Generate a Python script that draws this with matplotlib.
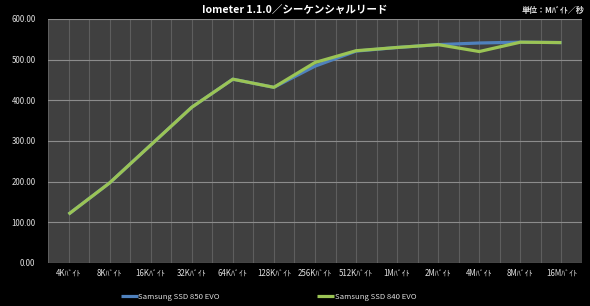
import matplotlib
matplotlib.use("Agg")
import matplotlib.pyplot as plt
import numpy as np

plt.rcParams['font.family'] = ['Noto Sans CJK JP', 'DejaVu Sans']

categories = ["4K", "8K", "16K", "32K", "64K", "128K", "256K", "512K",
              "1M", "2M", "4M", "8M", "16M"]
unit_suffix = "ﾊﾞｲﾄ"
evo850 = [120, 197, 290, 383, 452, 432, 484, 521, 530, 537, 541, 543, 542]
evo840 = [120, 197, 290, 383, 452, 432, 493, 522, 530, 537, 520, 543, 542]
series_names = ["Samsung SSD 850 EVO", "Samsung SSD 840 EVO"]
yticks = [0, 100, 200, 300, 400, 500, 600]

W, H = 590, 306
fig = plt.figure(figsize=(W / 100, H / 100), dpi=100, facecolor='black')
ax = fig.add_axes([48 / W, 1 - 263 / H, (582 - 48) / W, (263 - 19) / H])
ax.set_facecolor('#404040')

x = np.arange(len(categories))
ax.set_xlim(-0.5, len(categories) - 0.5)
ax.set_ylim(0, 600)

# gridlines
for xv in np.arange(-0.5, len(categories), 0.5):
    ax.axvline(xv, color='#5e5e5e', lw=0.8, zorder=1)
for yv in yticks:
    ax.axhline(yv, color='#8c8c8c', lw=0.8, zorder=1)

ax.plot(x, evo850, color='#4f81bd', lw=2.3, solid_capstyle='butt',
        solid_joinstyle='round', zorder=3, label=series_names[0])
ax.plot(x, evo840, color='#9bc455', lw=2.3, solid_capstyle='butt',
        solid_joinstyle='round', zorder=4, label=series_names[1])

ax.set_yticks(yticks)
ax.set_yticklabels([f"{v:.2f}" for v in yticks], color='#e0e0e0', fontsize=5.7)
ax.set_xticks(x)
ax.set_xticklabels([c + unit_suffix for c in categories], color='#e0e0e0', fontsize=5.7)
ax.tick_params(length=0, pad=4)
ax.tick_params(axis='y', pad=9)
for s in ax.spines.values():
    s.set_visible(False)

fig.text(0.5, 1 - 11 / H, "Iometer 1.1.0／シーケンシャルリード", ha='center', va='center',
         color='white', fontsize=7.6, fontweight='bold')
fig.text(585 / W, 1 - 11 / H, "単位：Mﾊﾞｲﾄ／秒", ha='right', va='center',
         color='#e0e0e0', fontsize=5.8, fontweight='bold')

leg = fig.legend(loc='center left', bbox_to_anchor=(114 / W, 1 - 297 / H), ncol=2,
                 frameon=False, fontsize=5.6, handlelength=2.2, handletextpad=0.05,
                 columnspacing=12.5, labelcolor='#e0e0e0')

fig.savefig("out.png", dpi=100, facecolor='black')
